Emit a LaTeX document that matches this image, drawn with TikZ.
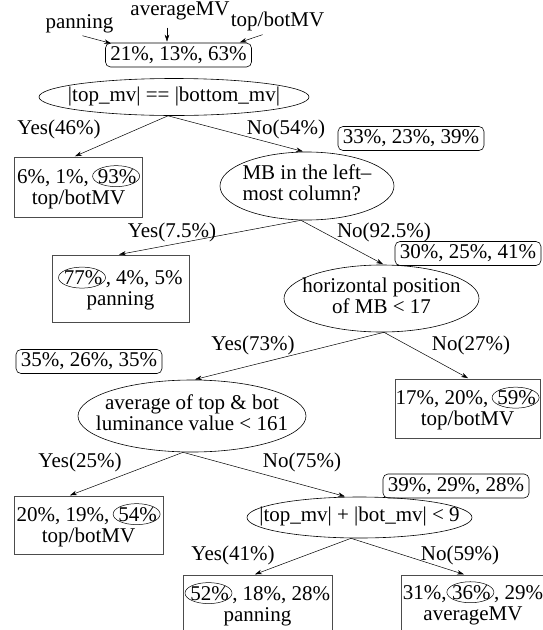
\documentclass[tikz,border=0pt]{standalone}
\usepackage{fontspec}
\setmainfont{Liberation Serif}
\usetikzlibrary{shapes.geometric,arrows.meta,calc}
\newcommand\circd[1]{\tikz[baseline=(cc.base)]{\node[inner sep=0pt,outer sep=0pt,draw=none,shape=rectangle,minimum width=0pt,minimum height=0pt,anchor=base](cc){#1};\draw[draw=black,line width=0.5pt] ([yshift=7pt,xshift=-1pt]cc.base) ellipse [x radius=23.5pt, y radius=10.5pt];}}
\newcommand\ztxt[2]{\makebox[0pt][c]{\begin{tabular}{@{}#1@{}}#2\end{tabular}}}
\begin{document}
\begin{tikzpicture}[x=1pt,y=-1pt,font=\fontsize{21}{21}\selectfont,
 leaf/.style={draw=black!70,line width=0.6pt,rectangle,inner sep=0pt,align=center},
 rbox/.style={draw=black,line width=0.6pt,rectangle,rounded corners=5pt,inner sep=0pt,minimum width=146pt,minimum height=24pt},
 ell/.style={draw=black,line width=0.6pt,ellipse,inner sep=0pt},
 lab/.style={inner sep=0pt},
 arr/.style={-{Stealth[length=7pt,width=4.5pt]},line width=0.5pt,shorten >=1pt}]
\clip (0,0) rectangle (543,630);
% top labels
\node[lab,anchor=base] (lp) at (79.5,28) {panning};
\node[lab,anchor=base] (lav) at (180,15) {averageMV};
\node[lab,anchor=base] (ltb) at (277.5,26) {top/botMV};
\node[rbox] (root) at (178.5,55) {21\%, 13\%, 63\%};
\draw[arr] ($(lp.south)+(3,3)$) -- ($(root.north west)+(7,1)$);
\draw[arr] ($(lav.south)+(-13,8)$) -- ($(root.north)+(-11.5,0)$);
\draw[arr] ($(ltb.south)+(-15,4)$) -- ($(root.north east)+(-13,0)$);
% level 1
\node[ell,minimum width=270pt,minimum height=37pt] (e1) at (174,97) {\ztxt{c}{|top\_mv| == |bottom\_mv|}};
\node[leaf,minimum width=128pt,minimum height=60pt] (b1) at (78.5,187) {6\%, 1\%,\,\circd{93\%}\\top/botMV};
\node[rbox] (r1) at (411,138.5) {33\%, 23\%, 39\%};
\node[ell,minimum width=174pt,minimum height=68pt] (e2) at (307,186) {\ztxt{l}{MB in the left–\\most column?}};
\node[lab] (y1) at (59,129) {Yes(46\%)};
\node[lab] (n1) at (286,129) {No(54\%)};
\draw[arr] ($(e1.south)+(-6,0)$) -- ($(b1.north)+(-4.5,0)$);
\draw[arr] ($(e1.south)+(-6,0)$) -- ($(e2.north)+(-3,0)$);
% level 2
\node[leaf,minimum width=137pt,minimum height=67pt] (b2) at (120.5,288.5) {\circd{77\%}, 4\%, 5\%\\panning};
\node[rbox] (r2) at (468,253.5) {30\%, 25\%, 41\%};
\node[ell,minimum width=195pt,minimum height=67pt] (e3) at (381.5,298.5) {\ztxt{c}{horizontal position\\of MB < 17}};
\node[lab] (y2) at (172,232) {Yes(7.5\%)};
\node[lab] (n2) at (384,232) {No(92.5\%)};
\draw[arr] ($(e2.south)+(-6,0)$) -- ($(b2.north)+(-2.5,0)$);
\draw[arr] ($(e2.south)+(-6,0)$) -- ($(e3.north)+(2.5,0)$);
% level 3
\node[rbox] (r3) at (89,361.5) {35\%, 26\%, 35\%};
\node[ell,minimum width=228pt,minimum height=72pt] (e4) at (192,416) {\ztxt{c}{average of top \& bot\\luminance value < 161}};
\node[leaf,minimum width=145pt,minimum height=59pt] (b3) at (467.5,408.5) {17\%, 20\%,\,\circd{59\%}\\top/botMV};
\node[lab] (y3) at (253,345) {Yes(73\%)};
\node[lab] (n3) at (471,345) {No(27\%)};
\draw[arr] ($(e3.south)+(2.5,0)$) -- ($(e4.north)+(2,0)$);
\draw[arr] ($(e3.south)+(2.5,0)$) -- ($(b3.north)+(1.5,0)$);
% level 4
\node[leaf,minimum width=149pt,minimum height=58pt] (b4) at (88.5,525) {20\%, 19\%,\,\circd{54\%}\\top/botMV};
\node[rbox] (r4) at (456,486) {39\%, 29\%, 28\%};
\node[ell,minimum width=225pt,minimum height=41pt] (e5) at (359.5,517.5) {\ztxt{c}{|top\_mv| + |bot\_mv| < 9}};
\node[lab] (y4) at (80,462) {Yes(25\%)};
\node[lab] (n4) at (302,462) {No(75\%)};
\draw[arr] ($(e4.south)+(-9,0)$) -- ($(b4.north)+(-19.5,0)$);
\draw[arr] ($(e4.south)+(-9,0)$) -- ($(e5.north)+(-13.5,0)$);
% level 5
\node[leaf,minimum width=149pt,minimum height=58pt] (b5) at (257.5,604) {\circd{52\%}, 18\%, 28\%\\panning};
\node[leaf,minimum width=152pt,minimum height=58pt] (b6) at (477,604) {\makebox[0pt][c]{\hspace{-8pt}\begin{tabular}{@{}c@{}}31\%,\circd{36\%}, 29\%\\averageMV\end{tabular}}};
\node[lab] (y5) at (233,555) {Yes(41\%)};
\node[lab] (n5) at (460,555) {No(59\%)};
\draw[arr] ($(e5.south)+(-8.5,0)$) -- ($(b5.north)+(-3.5,0)$);
\draw[arr] ($(e5.south)+(-8.5,0)$) -- ($(b6.north)+(-12,0)$);
\end{tikzpicture}
\end{document}
